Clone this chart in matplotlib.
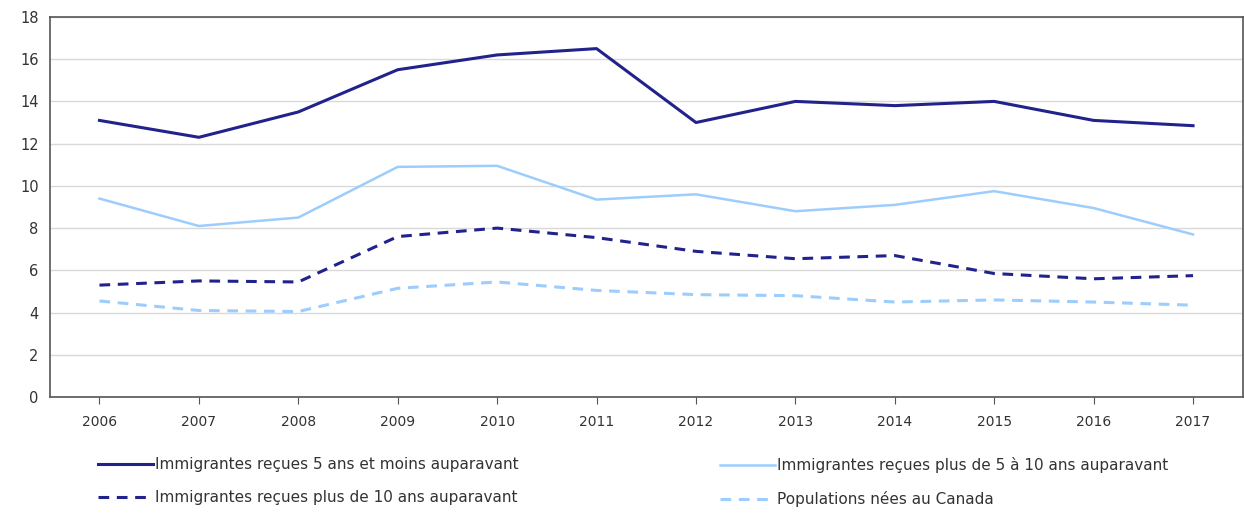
import matplotlib
matplotlib.use("Agg")
import matplotlib.pyplot as plt
import numpy as np

years = ["2006", "2007", "2008", "2009", "2010", "2011",
         "2012", "2013", "2014", "2015", "2016", "2017"]

recent_5 = [13.1, 12.3, 13.5, 15.5, 16.2, 16.5, 13.0, 14.0, 13.8, 14.0, 13.1, 12.85]
from_5_to_10 = [9.4, 8.1, 8.5, 10.9, 10.95, 9.35, 9.6, 8.8, 9.1, 9.75, 8.95, 7.7]
over_10 = [5.3, 5.5, 5.45, 7.6, 8.0, 7.55, 6.9, 6.55, 6.7, 5.85, 5.6, 5.75]
born_canada = [4.55, 4.1, 4.05, 5.15, 5.45, 5.05, 4.85, 4.8, 4.5, 4.6, 4.5, 4.35]

labels = [
    "Immigrantes reçues 5 ans et moins auparavant",
    "Immigrantes reçues plus de 5 à 10 ans auparavant",
    "Immigrantes reçues plus de 10 ans auparavant",
    "Populations nées au Canada",
]

dark = "#22228c"
light = "#9ccdfc"
txt = "#333333"

plt.rcParams["font.family"] = ["DejaVu Sans"]

fig = plt.figure(figsize=(12.44, 5.13), dpi=100)
ax = fig.add_axes([0.040, 0.226, 0.959, 0.741])

x = np.arange(len(years))
l1, = ax.plot(x, recent_5, color=dark, lw=2.2)
l2, = ax.plot(x, from_5_to_10, color=light, lw=1.8)
l3, = ax.plot(x, over_10, color=dark, lw=2.2, linestyle=(0, (3.5, 2.5)))
l4, = ax.plot(x, born_canada, color=light, lw=2.2, linestyle=(0, (3.5, 2.5)))

ax.set_xlim(-0.5, len(years) - 0.5)
ax.set_ylim(0, 18)
ax.set_yticks(range(0, 19, 2))
ax.set_xticks(x)
ax.set_xticklabels(years)
ax.grid(axis="y", color="#d9d9d9", lw=1)
ax.set_axisbelow(True)
for s in ax.spines.values():
    s.set_color("#555555")
    s.set_linewidth(1.2)
ax.tick_params(axis="y", length=0, pad=8, labelsize=10.5, labelcolor=txt)
ax.tick_params(axis="x", length=5, direction="out", color="#555555",
               pad=8, labelsize=10, labelcolor=txt)

leg_kw = dict(frameon=False, fontsize=11, handlelength=3.6, handletextpad=0.1,
              labelspacing=1.2, borderpad=0, borderaxespad=0, loc="upper left")
leg1 = fig.legend([l1, l3], [labels[0], labels[2]],
                  bbox_to_anchor=(98 / 1244, 1 - 457 / 513), **leg_kw)
leg2 = fig.legend([l2, l4], [labels[1], labels[3]],
                  bbox_to_anchor=(720 / 1244, 1 - 457 / 513), **leg_kw)
for leg in (leg1, leg2):
    for t in leg.get_texts():
        t.set_color(txt)

fig.savefig("out.png", dpi=100)
